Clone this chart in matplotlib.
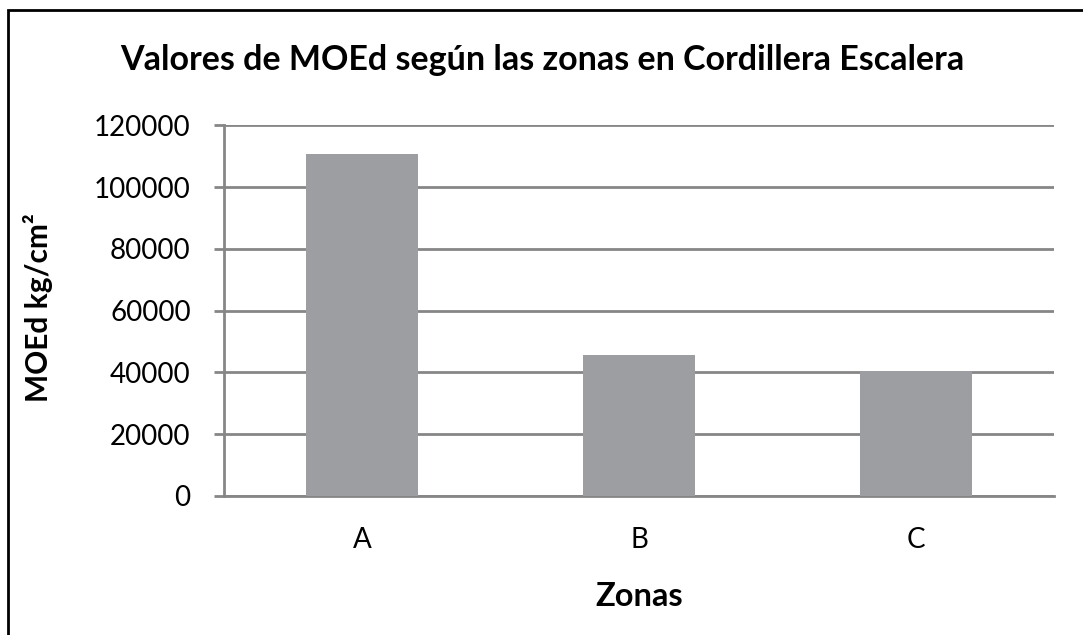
import matplotlib
matplotlib.use("Agg")
import matplotlib.pyplot as plt
from matplotlib.patches import Rectangle

zonas = ["A", "B", "C"]
moed = [110700, 45600, 40450]
y_ticks = [0, 20000, 40000, 60000, 80000, 100000, 120000]

title = "Valores de MOEd según las zonas en Cordillera Escalera"
x_label = "Zonas"
y_label = "MOEd kg/cm²"

plt.rcParams["font.family"] = ["Lato", "DejaVu Sans"]

W, H = 1083, 635
fig = plt.figure(figsize=(W / 100, H / 100), dpi=100)
ax = fig.add_axes([224 / W, 1 - 496 / H, (1054 - 224) / W, (496 - 125.3) / H])

grid_color = "#868686"
ax.bar(range(len(zonas)), moed, width=0.405, color="#9d9ea2", zorder=3)
ax.set_xlim(-0.5, len(zonas) - 0.5)
ax.set_ylim(0, 120000)
ax.set_yticks(y_ticks)
ax.set_yticklabels([str(v) for v in y_ticks], fontsize=20)
ax.set_xticks(range(len(zonas)))
ax.set_xticklabels(zonas, fontsize=20)
ax.grid(axis="y", color=grid_color, linewidth=2, zorder=0)
ax.set_axisbelow(True)

for side in ("top", "right"):
    ax.spines[side].set_visible(False)
ax.spines["left"].set_color(grid_color)
ax.spines["left"].set_linewidth(2)
ax.spines["bottom"].set_color(grid_color)
ax.spines["bottom"].set_linewidth(2)
ax.tick_params(axis="y", length=7, width=2, color=grid_color, pad=17)
ax.tick_params(axis="x", length=0, pad=22)

ax.set_xlabel(x_label, fontsize=23.5, fontweight="bold", va="center")
ax.set_ylabel(y_label, fontsize=21.5, fontweight="bold", va="center")
ax.xaxis.set_label_coords(0.5, (496 - 597) / (496 - 125.3))
ax.yaxis.set_label_coords((38 - 224) / (1054 - 224), (496 - 308) / (496 - 125.3))

fig.text(542 / W, 1 - 60 / H, title, fontsize=24.5, fontweight="bold",
         ha="center", va="center")

fig.patches.append(Rectangle((8 / W, -0.1), 1.2, 1 - 10 / H + 0.1,
                             transform=fig.transFigure, fill=False,
                             edgecolor="black", linewidth=2))

fig.savefig("out.png", dpi=100)
